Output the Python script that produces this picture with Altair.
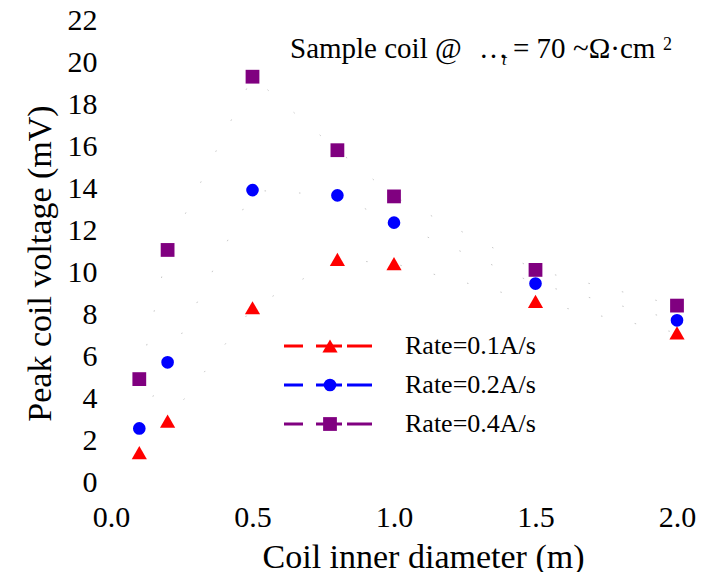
import altair as alt
import pandas as pd

diam = [0.1, 0.2, 0.5, 0.8, 1.0, 1.5, 2.0]
rate01 = [1.4, 2.9, 8.3, 10.6, 10.4, 8.6, 7.1]
rate02 = [2.55, 5.7, 13.9, 13.65, 12.35, 9.45, 7.7]
rate04 = [4.9, 11.05, 19.3, 15.8, 13.6, 10.1, 8.4]
series_names = ["Rate=0.1A/s", "Rate=0.2A/s", "Rate=0.4A/s"]
colors = ["#ff0000", "#0000ff", "#800080"]
shapes = ["triangle-up", "circle", "square"]
sizes = [230, 160, 190]
y_ticks = list(range(0, 23, 2))
x_ticks = [0.0, 0.5, 1.0, 1.5, 2.0]

rows = []
for name, vals in zip(series_names, [rate01, rate02, rate04]):
    for d, v in zip(diam, vals):
        rows.append({"d": d, "v": v, "s": name})
df = pd.DataFrame(rows)
one = pd.DataFrame({"k": [0]})

FONT = "Liberation Serif, Times New Roman, Times, serif"
W, H = 566, 462

xs = alt.Scale(domain=[0, 2.0], nice=False, zero=False)
ys = alt.Scale(domain=[0, 22], nice=False)

xax = alt.Axis(values=x_ticks, format=".1f", grid=False, domain=False, ticks=False,
               labelFlush=False, labelOverlap=False,
               labelFont=FONT, labelFontSize=30, labelColor="black", labelPadding=20,
               title="Coil inner diameter (m)", titleFont=FONT, titleFontSize=34,
               titleFontWeight="normal", titleColor="black", titleX=312, titleY=85,
               titleBaseline="alphabetic", titleAlign="center")
yax = alt.Axis(values=y_ticks, grid=False, domain=False, ticks=False,
               labelFlush=False, labelOverlap=False,
               labelFont=FONT, labelFontSize=30, labelColor="black", labelPadding=14,
               title="Peak coil voltage (mV)", titleFont=FONT, titleFontSize=34,
               titleFontWeight="normal", titleColor="black", titleX=-71, titleY=243,
               titleBaseline="middle", titleAlign="center", titleAngle=-90)

lines = alt.Chart(df).mark_line(strokeDash=[1.5, 33], strokeWidth=1, color="#c8c8c8").encode(
    x=alt.X("d:Q", scale=xs, axis=xax),
    y=alt.Y("v:Q", scale=ys, axis=yax),
    detail="s:N",
)

layers = [lines]
for name, col, shp, sz in zip(series_names, colors, shapes, sizes):
    layers.append(
        alt.Chart(df[df.s == name]).mark_point(shape=shp, filled=True, opacity=1, size=sz, color=col).encode(
            x=alt.X("d:Q", scale=xs), y=alt.Y("v:Q", scale=ys)
        )
    )

# legend
leg_y = [326, 365, 404]
for name, col, shp, sz, ly in zip(series_names, colors, shapes, sizes, leg_y):
    layers.append(
        alt.Chart(one).mark_rule(color=col, strokeWidth=3, strokeDash=[19, 13, 26, 5, 25, 100]).encode(
            x=alt.value(173), x2=alt.value(261), y=alt.value(ly)
        )
    )
    layers.append(
        alt.Chart(one).mark_point(shape=shp, filled=True, opacity=1, size=sz, color=col).encode(
            x=alt.value(219), y=alt.value(ly)
        )
    )
    layers.append(
        alt.Chart(one).mark_text(align="left", baseline="middle", font=FONT, fontSize=26, color="black").encode(
            x=alt.value(294), y=alt.value(ly), text=alt.value(name)
        )
    )

# annotation
ann = [
    ("Sample coil @", 179, 38, 29, "normal"),
    ("\u2026", 368, 38, 29, "normal"),
    ("t", 391, 45, 17, "italic"),
    ("= 70", 402, 38, 29, "normal"),
    ("~\u03a9\u00b7cm", 462, 38, 29, "normal"),
    ("2", 552, 30, 18, "normal"),
]
for t, ax, ay, fs, st in ann:
    layers.append(
        alt.Chart(one).mark_text(align="left", baseline="alphabetic", font=FONT, fontSize=fs,
                                 fontStyle=st, color="black").encode(
            x=alt.value(ax), y=alt.value(ay), text=alt.value(t)
        )
    )

chart = alt.layer(*layers).properties(
    width=W, height=H,
    autosize=alt.AutoSizeParams(type="none"),
    padding={"left": 103, "top": 12, "right": 20, "bottom": 90},
).configure_view(stroke=None)

chart.save("out.html", embed_options={"renderer": "svg", "actions": False})
